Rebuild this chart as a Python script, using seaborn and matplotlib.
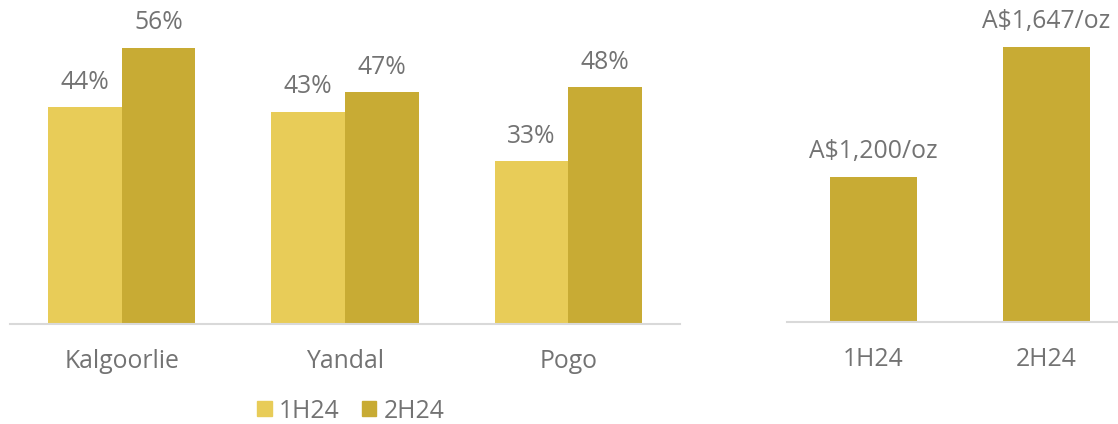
import pandas as pd
import matplotlib.pyplot as plt
import seaborn as sns
from matplotlib.patches import Patch

# data
sites = ['Kalgoorlie', 'Yandal', 'Pogo']
share_1h24 = [44, 43, 33]
share_2h24 = [56, 47, 48]
periods = ['1H24', '2H24']
price = [1200, 1647]

LIGHT = '#E8CC58'
DARK = '#C8AB34'
TEXT = '#737373'
AXIS = '#D9D9D9'
FS = 17.8

sns.set_theme(style='white')
plt.rcParams['font.family'] = ['Open Sans', 'DejaVu Sans']

df = pd.DataFrame({
    'site': sites * 2,
    'period': ['1H24'] * len(sites) + ['2H24'] * len(sites),
    'value': share_1h24 + share_2h24,
})
df_price = pd.DataFrame({'period': periods, 'price': price})

fig = plt.figure(figsize=(11.18, 4.24), dpi=100)
ax1 = fig.add_axes([0.0089, 0.2358, 0.5993, 0.7642])
ax2 = fig.add_axes([0.704, 0.2406, 0.3095, 0.7594])

sns.barplot(data=df, x='site', y='value', hue='period', order=sites,
            hue_order=periods, palette=[LIGHT, DARK], width=0.66,
            saturation=1, linewidth=0, ax=ax1, legend=False)
for cont in ax1.containers:
    ax1.bar_label(cont, labels=[f'{v:.0f}%' for v in cont.datavalues],
                  padding=9, fontsize=FS, color=TEXT)
ax1.set_ylim(0, 65.7)
ax1.set_xlim(-0.5, 2.5)

sns.barplot(data=df_price, x='period', y='price', color=DARK, width=0.5,
            saturation=1, linewidth=0, ax=ax2)
ax2.bar_label(ax2.containers[0],
              labels=[f'A${v:,.0f}/oz' for v in price],
              padding=9, fontsize=FS, color=TEXT)
ax2.set_ylim(700, 1808)
ax2.set_xlim(-0.5, 1.5)

for ax in (ax1, ax2):
    ax.set_xlabel('')
    ax.set_ylabel('')
    ax.set_yticks([])
    for s in ['top', 'right', 'left']:
        ax.spines[s].set_visible(False)
    ax.spines['bottom'].set_color(AXIS)
    ax.spines['bottom'].set_linewidth(1.5)
    ax.tick_params(axis='x', length=0, pad=18, labelsize=FS, labelcolor=TEXT)
    ax.set_facecolor('none')

handles = [Patch(color=LIGHT, label='1H24'), Patch(color=DARK, label='2H24')]
fig.legend(handles=handles, loc='center', bbox_to_anchor=(351 / 1118, 1 - 411 / 424),
           ncol=2, frameon=False, fontsize=FS, labelcolor=TEXT,
           borderpad=0.2,
           handlelength=0.58, handleheight=0.58, handletextpad=0.3, columnspacing=0.9)

fig.savefig('out.png', dpi=100)
